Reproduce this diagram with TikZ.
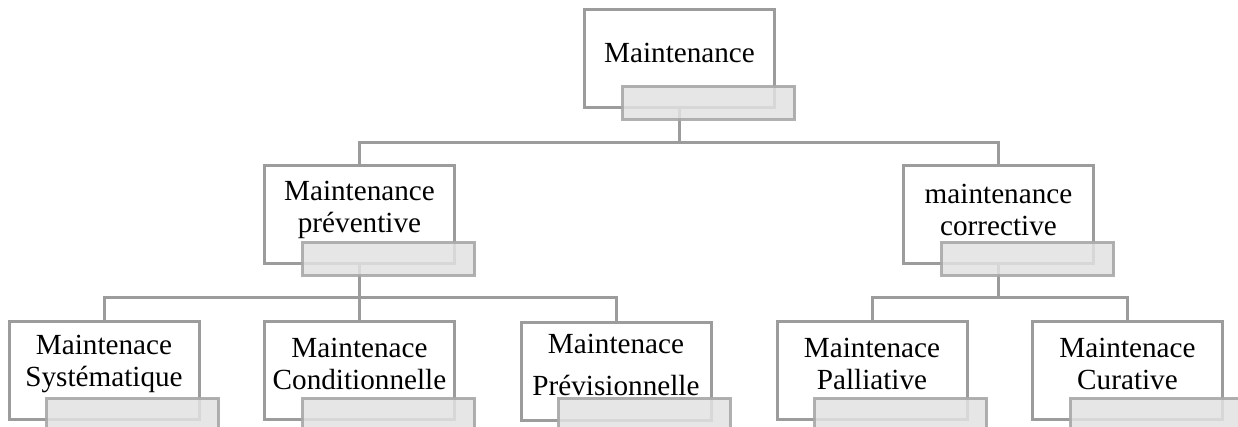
\documentclass[tikz,border=0pt]{standalone}
\usepackage{fontspec}
\setmainfont{Liberation Serif}
\definecolor{linegray}{HTML}{9C9C9C}
\definecolor{boxgray}{HTML}{E2E2E2}
\definecolor{boxedge}{HTML}{A8A8A8}
\begin{document}
\begin{tikzpicture}[x=0.5pt,y=-0.5pt,
  wbox/.style={draw=linegray,line width=1.5pt,fill=white,minimum width=95pt,minimum height=49pt,inner sep=0pt},
  gbox/.style={draw=boxedge,line width=1.5pt,fill=boxgray,fill opacity=0.85,draw opacity=0.9,minimum width=86pt,minimum height=16.5pt,inner sep=0pt},
  lbl/.style={align=center,font=\fontsize{14.6}{16.2}\selectfont,inner sep=0pt},
  conn/.style={draw=linegray,line width=1.5pt}]
\useasboundingbox (0,0) rectangle (1238,427);
\clip (0,0) rectangle (1238,427);
% white boxes
\node[wbox] (top) at (679.5,58.5) {};
\node[wbox] (prev) at (359.5,214.5) {};
\node[wbox] (corr) at (998.5,214.5) {};
\node[wbox] (sys) at (104,370.5) {};
\node[wbox] (cond) at (359.5,370.5) {};
\node[wbox] (previs) at (616,372) {};
\node[wbox] (pall) at (872,370.5) {};
\node[wbox] (cur) at (1127.5,370.5) {};
% labels
\node[lbl] (tTop) at (679.5,53) {Maintenance};
\node[lbl] (tPrev) at (359.5,210) {Maintenance\\préventive};
\node[lbl] (tCorr) at (998.5,210) {maintenance\\corrective};
\node[lbl] (tSys) at (104,364) {Maintenace\\Systématique};
\node[lbl] (tCond) at (359.5,364) {Maintenace\\Conditionnelle};
\node[lbl,font=\fontsize{14.6}{21}\selectfont] (tPrevis) at (616,365) {Maintenace\\Prévisionnelle};
\node[lbl] (tPall) at (872,364) {Maintenace\\Palliative};
\node[lbl] (tCur) at (1127.5,364) {Maintenace\\Curative};
% connectors
\coordinate (j1) at (679.5,143);
\coordinate (j2) at (359.5,298);
\coordinate (j3) at (998.5,298);
\draw[conn] (top.south) -- (j1) -| (prev.north);
\draw[conn] (j1) -| (corr.north);
\draw[conn] (prev.south) -- (j2) -| (sys.north);
\draw[conn] (j2) -- (cond.north);
\draw[conn] (j2) -| (previs.north);
\draw[conn] (corr.south) -- (j3) -| (pall.north);
\draw[conn] (j3) -| (cur.north);
% gray overlay boxes
\node[gbox] (gTop) at (708.5,103) {};
\node[gbox] (gPrev) at (388.5,259) {};
\node[gbox] (gCorr) at (1027.5,259) {};
\node[gbox] (gSys) at (132.5,415) {};
\node[gbox] (gCond) at (388.5,415) {};
\node[gbox] (gPrevis) at (644,415) {};
\node[gbox] (gPall) at (900.5,415) {};
\node[gbox] (gCur) at (1156,415) {};
\end{tikzpicture}
\end{document}
